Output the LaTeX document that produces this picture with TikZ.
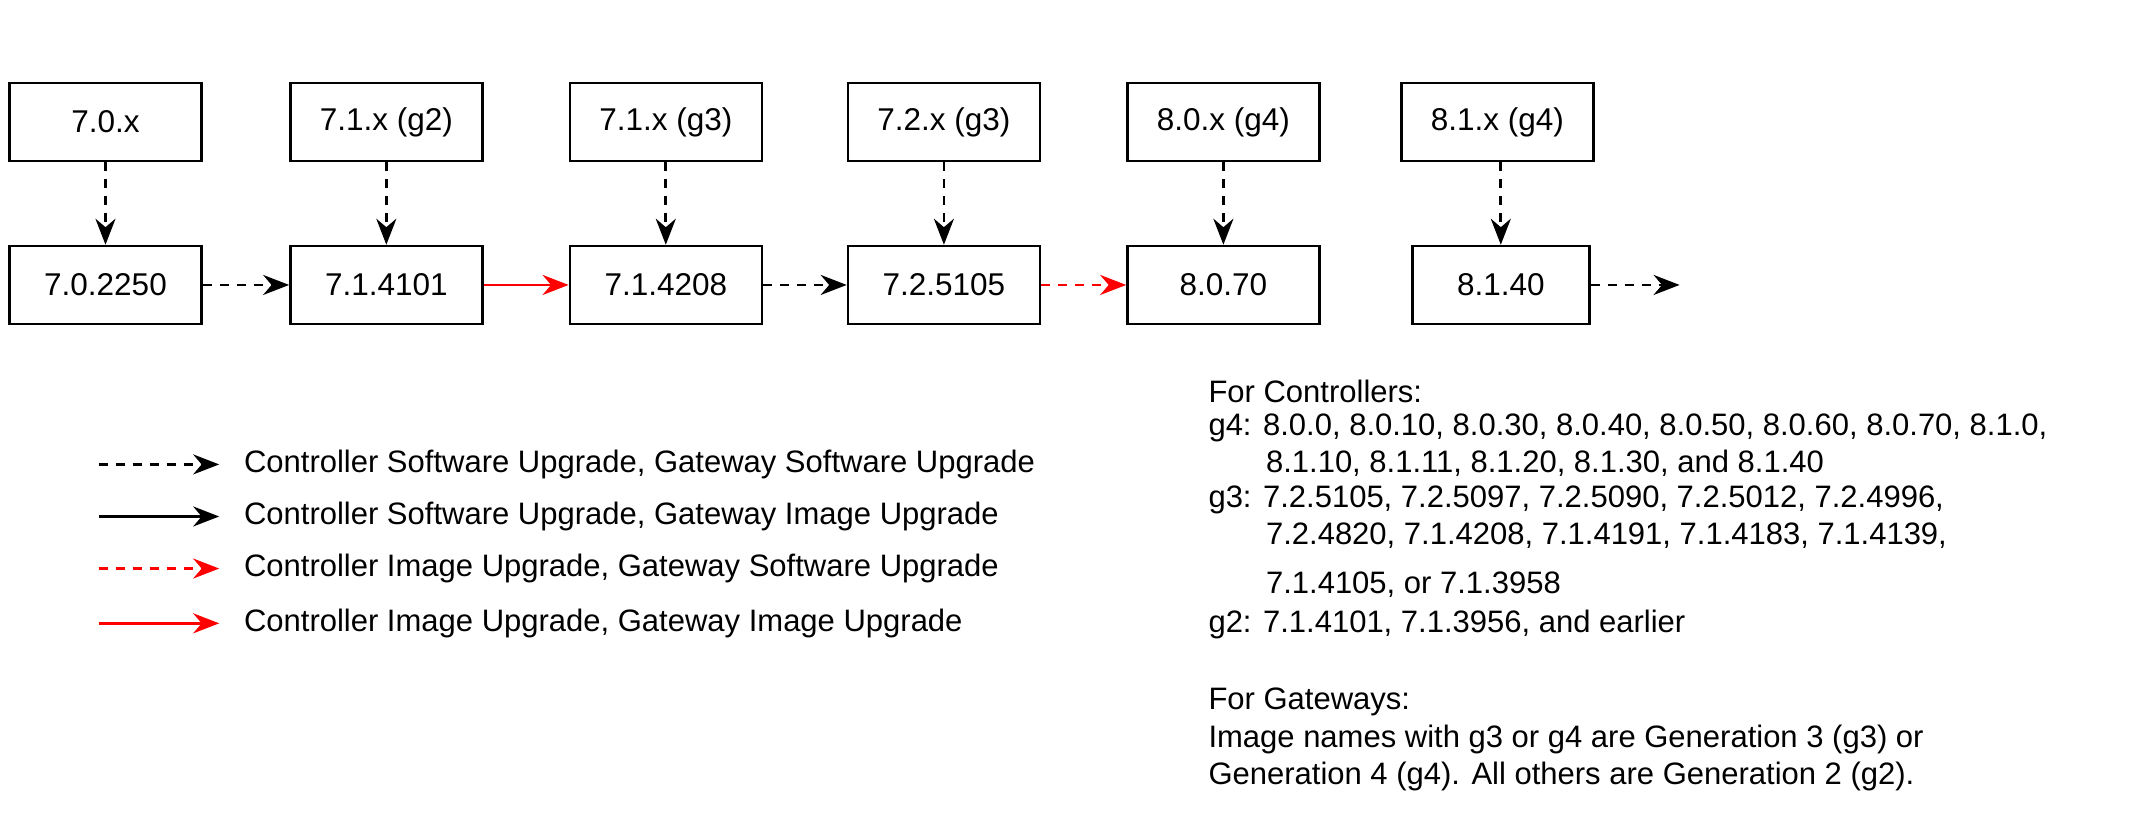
\documentclass[tikz,border=0pt]{standalone}
\usepackage{fontspec}
\setmainfont{Liberation Sans}
\usetikzlibrary{arrows.meta}
\begin{document}
\begin{tikzpicture}[x=1.37pt,y=-1.37pt,
 box/.style={draw,line width=2.4pt,minimum width=192pt,minimum height=78pt,font=\fontsize{31.5}{36}\selectfont,inner sep=0},
 arr/.style={line width=2.8pt,-{Stealth[length=26pt,width=20pt]}},
 dsh/.style={arr,dash pattern=on 9pt off 8pt},
 txt/.style={font=\fontsize{31}{36}\selectfont,anchor=west,inner sep=0}]
\useasboundingbox (0,0) rectangle (1565,606.6);
\foreach \n/\x/\t/\b in {a/77/7.0.x/7.0.2250,b/282/7.1.x (g2)/7.1.4101,c/486/7.1.x (g3)/7.1.4208,d/689/7.2.x (g3)/7.2.5105,e/893/8.0.x (g4)/8.0.70}{
 \node[box] (\n1) at (\x,89) {\t};
 \node[box] (\n2) at (\x,208) {\b};
 \draw[dsh] (\n1) -- (\n2);
}
\node[box] (f1) at (1093,89) {8.1.x (g4)};
\node[box,minimum width=177pt] (f2) at (1095.5,208) {8.1.40};
\draw[dsh] (f1.south -| f2) -- (f2);
\coordinate (fe) at (1226,208);
\draw[dsh] (a2) -- (b2);
\draw[arr,red] (b2) -- (c2);
\draw[dsh] (c2) -- (d2);
\draw[dsh,red] (d2) -- (e2);
\draw[dsh] (f2) -- (fe);
% legend
\foreach \i/\y/\s/\c/\t in {1/339/dsh/black/{Controller Software Upgrade, Gateway Software Upgrade},
 2/377/arr/black/{Controller Software Upgrade, Gateway Image Upgrade},
 3/415/dsh/red/{Controller Image Upgrade, Gateway Software Upgrade},
 4/455/arr/red/{Controller Image Upgrade, Gateway Image Upgrade}}{
 \coordinate (l\i a) at (72,\y); \coordinate (l\i b) at (160,\y);
 \draw[\s,\c] (l\i a) -- (l\i b);
 \node[txt] (lt\i) at (178,\y) {\t};
}
\foreach \i/\x/\y/\t in {1/882/286/{For Controllers:},
 2/882/312/{g4: 8.0.0, 8.0.10, 8.0.30, 8.0.40, 8.0.50, 8.0.60, 8.0.70, 8.1.0,},
 3/924/338/{8.1.10, 8.1.11, 8.1.20, 8.1.30, and 8.1.40},
 4/882/365/{g3: 7.2.5105, 7.2.5097, 7.2.5090, 7.2.5012, 7.2.4996,},
 5/924/391/{7.2.4820, 7.1.4208, 7.1.4191, 7.1.4183, 7.1.4139,},
 6/924/427/{7.1.4105, or 7.1.3958},
 7/882/456/{g2: 7.1.4101, 7.1.3956, and earlier},
 8/882/512/{For Gateways:},
 9/882/540/{Image names with g3 or g4 are Generation 3 (g3) or},
 10/882/567/{Generation 4 (g4). All others are Generation 2 (g2).}}{
 \node[txt] (r\i) at (\x,\y) {\t};
}
\end{tikzpicture}
\end{document}
